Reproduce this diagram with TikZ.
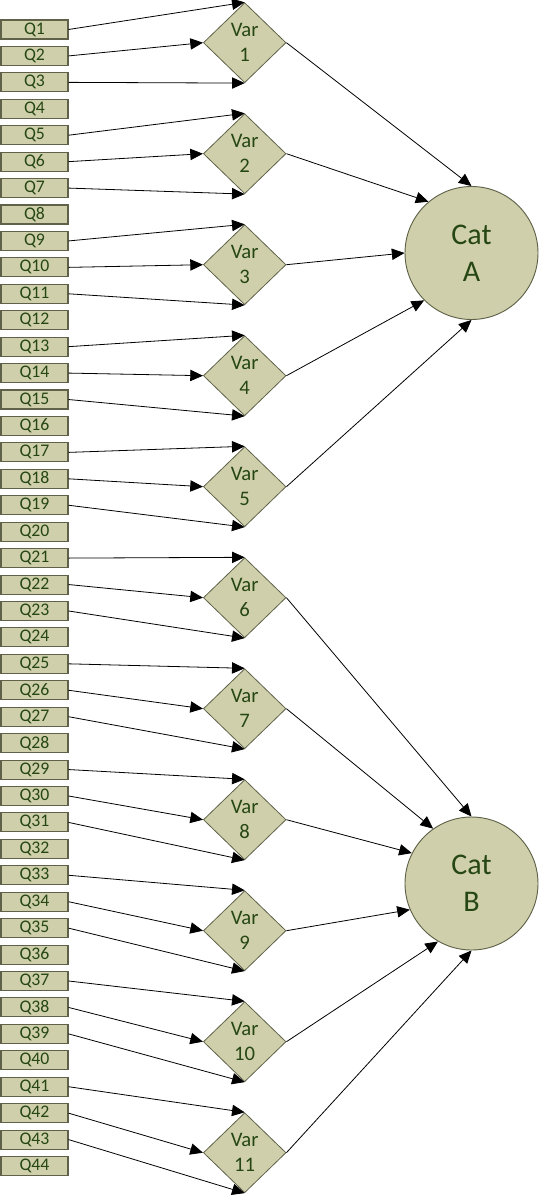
\documentclass[tikz,border=0pt]{standalone}
\usepackage{fontspec}
\setmainfont{Carlito}
\usetikzlibrary{arrows.meta}
\usetikzlibrary{shapes.geometric}
\definecolor{boxfill}{RGB}{207,208,171}
\definecolor{boxtext}{RGB}{38,70,20}
\definecolor{boxline}{RGB}{95,98,72}

\begin{document}
\begin{tikzpicture}[x=0.75pt, y=-0.75pt,
  qbox/.style={draw=boxline, fill=boxfill, text=boxtext, line width=0.8pt,
    minimum width=50.25pt, minimum height=14.25pt, inner sep=0pt,
    font=\fontsize{13.3}{14}\selectfont},
  varbox/.style={diamond, draw=boxline, fill=boxfill, text=boxtext, line width=0.6pt,
    minimum width=62pt, minimum height=60pt, inner sep=0pt, align=center,
    font=\fontsize{15.5}{18.75}\selectfont},
  catnode/.style={circle, draw=boxline, fill=boxfill, text=boxtext, line width=0.7pt,
    minimum size=99.75pt, inner sep=0pt, align=center,
    font=\fontsize{22.5}{28}\selectfont},
  link/.style={-{Triangle[length=9.5pt,width=8.5pt]}, line width=0.6pt}]
\useasboundingbox (0,0) rectangle (540,1198);

% questions
\foreach \i in {1,...,44}
  \node[qbox] (q\i) at (34.5,{29.5+(\i-1)*26.43}) {Q\i};

% variables
\foreach \k in {1,...,11}
  \node[varbox] (var\k) at (244.7,{42.7+(\k-1)*111}) {Var\\\k};

% categories
\node[catnode] (catA) at (471.5,253) {Cat\\A};
\node[catnode] (catB) at (471.5,883.5) {Cat\\B};

% questions to variables
\foreach \k in {1,...,11} {
  \pgfmathtruncatemacro\qa{4*\k-3}
  \pgfmathtruncatemacro\qb{4*\k-2}
  \pgfmathtruncatemacro\qc{4*\k-1}
  \draw[link] (q\qa.east) -- (var\k.north);
  \draw[link] (q\qb.east) -- (var\k.west);
  \draw[link] (q\qc.east) -- (var\k.south);
}

% variables to categories
\foreach \k/\a in {1/90,2/130,3/180,4/225,5/270}
  \draw[link] (var\k.east) -- (catA.\a);
\foreach \k/\a in {6/90,7/125,8/153,9/203,10/240,11/270}
  \draw[link] (var\k.east) -- (catB.\a);
\end{tikzpicture}
\end{document}
